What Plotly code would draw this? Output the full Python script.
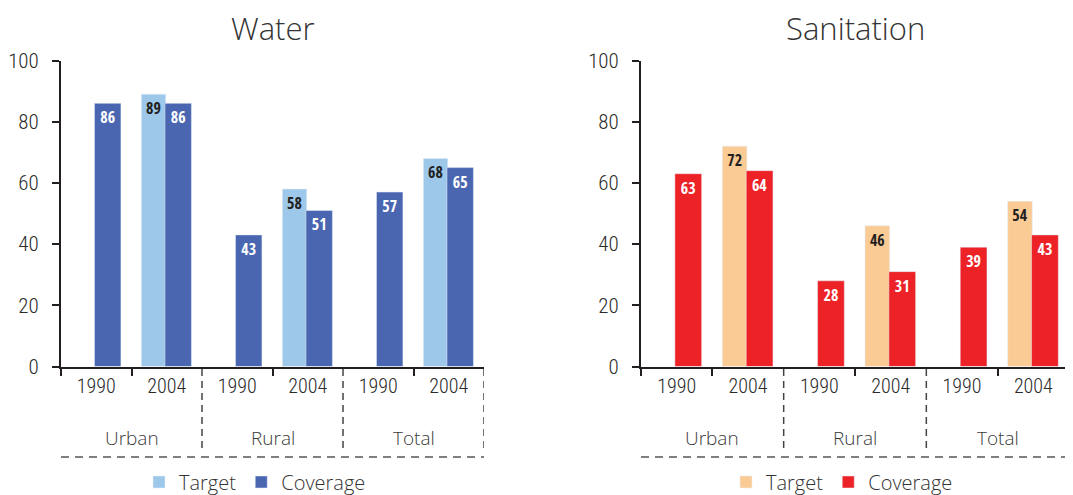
import plotly.graph_objects as go

groups = ["Urban", "Rural", "Total"]
years = ["1990", "2004"]

water_target_2004 = [89, 58, 68]
water_cov_1990 = [86, 43, 57]
water_cov_2004 = [86, 51, 65]

san_target_2004 = [72, 46, 54]
san_cov_1990 = [63, 28, 39]
san_cov_2004 = [64, 31, 43]

y_ticks = [0, 20, 40, 60, 80, 100]

BOLDC = "Open Sans Condensed, Roboto Condensed, Liberation Sans Narrow, Roboto, sans-serif"
TICKF = "Roboto Condensed, Open Sans Condensed Light, Roboto, sans-serif"
LIGHT = "Open Sans, Lato, sans-serif"
INK = "#231F20"
W, H, OFF = 1065, 487, 8


def px(x):
    return (x - OFF) / W


def py(y):
    return 1 - (y - OFF) / H


slot_pos = list(range(len(groups) * len(years)))
year_labels = [y for g in groups for y in years]
target_pos = [i * 2 + 1 for i in range(len(groups))]
group_centers = [i * 2 + 0.5 for i in range(len(groups))]


def interleave(a, b):
    out = []
    for x, y in zip(a, b):
        out += [x, y]
    return out


panels = [
    dict(name="Water", target=water_target_2004, cov=interleave(water_cov_1990, water_cov_2004),
         tcol="#9DC8EA", ccol="#4A66B0", dom=[px(61), px(484)], ax="", legend="legend", lx=255),
    dict(name="Sanitation", target=san_target_2004, cov=interleave(san_cov_1990, san_cov_2004),
         tcol="#FBCB96", ccol="#ED2227", dom=[px(641), px(1069)], ax="2", legend="legend2", lx=842),
]

fig = go.Figure()
ydom = [py(366.5), py(60.5)]

for p in panels:
    xa = "x" + p["ax"]
    ya = "y" + p["ax"]
    fig.add_trace(go.Bar(
        x=target_pos, y=p["target"], name="Target", marker_color=p["tcol"],
        offset=-0.36, width=0.345, xaxis=xa, yaxis=ya, legend=p["legend"],
        text=[str(v) for v in p["target"]], textposition="inside", insidetextanchor="end",
        textangle=0, constraintext="none",
        textfont=dict(family=BOLDC, size=16, color=INK, weight="bold"),
    ))
    fig.add_trace(go.Bar(
        x=slot_pos, y=p["cov"], name="Coverage", marker_color=p["ccol"],
        offset=-0.025, width=0.375, xaxis=xa, yaxis=ya, legend=p["legend"],
        text=[str(v) for v in p["cov"]], textposition="inside", insidetextanchor="end",
        textangle=0, constraintext="none",
        textfont=dict(family=BOLDC, size=16, color="white", weight="bold"),
    ))

    xkey = "xaxis" + p["ax"]
    ykey = "yaxis" + p["ax"]
    fig.layout[xkey] = dict(
        domain=p["dom"], range=[-0.5, 5.5], anchor=ya,
        tickvals=slot_pos, ticktext=year_labels, ticks="",
        showline=True, linecolor=INK, linewidth=2,
        tickfont=dict(family=TICKF, size=20, color="#2a2a2a", weight=300),
        minor=dict(tickvals=[i - 0.5 for i in range(len(slot_pos) + 1) if i not in (2, 4, 6)],
                   ticks="outside", ticklen=7, tickwidth=2, tickcolor=INK),
        showgrid=False, zeroline=False, fixedrange=True,
    )
    fig.layout[ykey] = dict(
        domain=ydom, range=[0, 100], anchor=xa,
        tickvals=y_ticks, ticks="outside", ticklen=7, tickwidth=2, tickcolor=INK,
        showline=True, linecolor=INK, linewidth=2, ticklabelstandoff=9,
        tickfont=dict(family=TICKF, size=21, color="#2a2a2a", weight=300),
        showgrid=False, zeroline=False, fixedrange=True,
    )

    # dashed separators
    for xb in [1.5, 3.5, 5.5]:
        fig.add_shape(type="line", xref=xa, yref="paper", x0=xb, x1=xb,
                      y0=py(369), y1=py(449),
                      line=dict(color="#444444", width=1.5, dash="7px,5px"))
    fig.add_shape(type="line", xref=xa, yref="paper", x0=-0.5, x1=5.5,
                  y0=py(457), y1=py(457),
                  line=dict(color="#555555", width=1.5, dash="8px,6px"))

    for g, c in zip(groups, group_centers):
        fig.add_annotation(x=c, y=py(438), xref=xa, yref="paper",
                           text=g, showarrow=False, yanchor="middle",
                           font=dict(family=LIGHT, size=19, color="#3a3a3a", weight=300))

    fig.add_annotation(x=0.5, y=py(28), xref=xa + " domain", yref="paper",
                       text=p["name"], showarrow=False, yanchor="middle",
                       font=dict(family=LIGHT, size=31, color="#333333", weight=300))

legend_style = dict(orientation="h", xanchor="center", yanchor="middle",
                    y=py(482), font=dict(family=LIGHT, size=20, color="#333333", weight=300),
                    bgcolor="rgba(0,0,0,0)", itemclick=False, itemdoubleclick=False)
fig.update_layout(
    legend=dict(legend_style, x=px(panels[0]["lx"])),
    legend2=dict(legend_style, x=px(panels[1]["lx"])),
    barmode="overlay",
    width=W, height=H,
    margin=dict(l=0, r=0, t=0, b=0, autoexpand=False),
    plot_bgcolor="white", paper_bgcolor="white",
    showlegend=True,
)

fig.write_html("out.html")
